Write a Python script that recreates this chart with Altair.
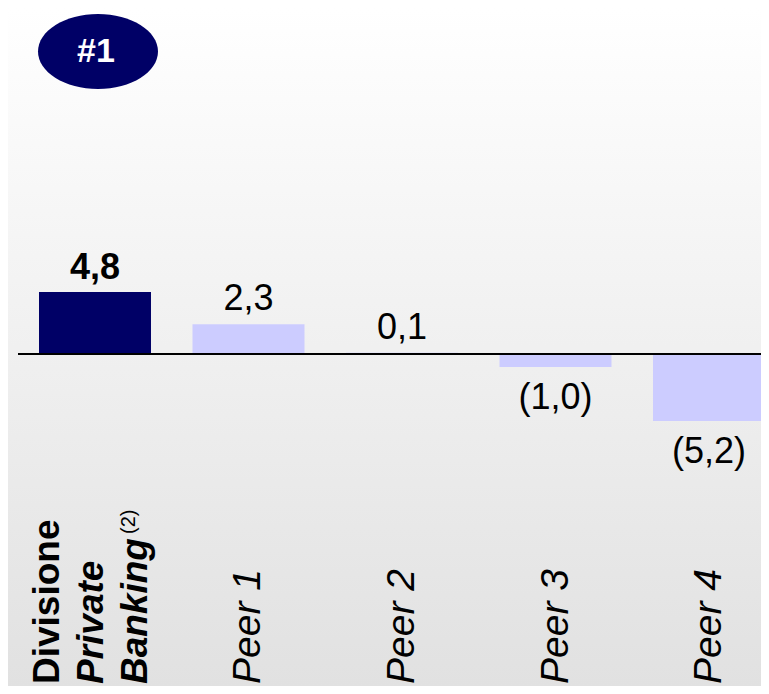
import altair as alt
import pandas as pd

# ---- data ----
categories = ["Divisione Private Banking", "Peer 1", "Peer 2", "Peer 3", "Peer 4"]
values = [4.8, 2.3, 0.1, -1.0, -5.2]
highlight = ["yes", "no", "no", "no", "no"]
badge_text = ["#1"]
first_label_lines = ["Divisione", "Private", "Banking"]
first_label_note = ["(2)"]


def fmt(v):
    s = f"{abs(v):.1f}".replace(".", ",")
    return f"({s})" if v < 0 else s


df = pd.DataFrame({
    "cat": categories,
    "value": values,
    "hl": highlight,
    "zero": [0.0] * len(values),
    "label": [fmt(v) for v in values],
})

FONT = "Liberation Sans"
W = 743
H = 678
K = 12.9            # pixels per unit
ZERO = 346          # zero line, pixels from top of plot
y_dom = [-(H - ZERO) / K, ZERO / K]

xs = alt.Scale(domain=categories, range=[21, 747], paddingInner=0.2704, paddingOuter=0)
ys = alt.Scale(domain=y_dom, nice=False, zero=False)

X = alt.X("cat:N", scale=xs, axis=None)
Y = alt.Y("value:Q", scale=ys, axis=None)

base = alt.Chart(df)

one = pd.DataFrame({"a": [0]})
bg = alt.Chart(one).mark_rect(
    fill=alt.Gradient(
        gradient="linear",
        stops=[alt.GradientStop(color="#FFFFFF", offset=0),
               alt.GradientStop(color="#E1E1E1", offset=1)],
        x1=0, x2=0, y1=0, y2=1,
    )
).encode(x=alt.value(-10), x2=alt.value(W), y=alt.value(0), y2=alt.value(H))

bars = base.mark_bar().encode(
    x=X,
    y=Y,
    y2="zero:Q",
    color=alt.Color("hl:N", scale=alt.Scale(domain=["yes", "no"], range=["#000066", "#CCCCFF"]), legend=None),
)

zero_rule = base.transform_filter("datum.hl == 'yes'").mark_rule(color="#000000", strokeWidth=2).encode(
    y=alt.Y("zero:Q", scale=ys, axis=None), x=alt.value(0), x2=alt.value(W)
)

pos_lbl = base.transform_filter("datum.value >= 0 && datum.hl == 'no'").mark_text(
    font=FONT, fontSize=36, baseline="alphabetic", dy=-14, color="#000000"
).encode(x=X, y=Y, text="label:N")

hl_lbl = base.transform_filter("datum.hl == 'yes'").mark_text(
    font=FONT, fontSize=36, fontWeight="bold", baseline="alphabetic", dy=-13, color="#000000"
).encode(x=X, y=Y, text="label:N")

neg_lbl = base.transform_filter("datum.value < 0").mark_text(
    font=FONT, fontSize=36, baseline="alphabetic", dy=42, color="#000000"
).encode(x=X, y=Y, text="label:N")

peer_lbl = base.transform_filter("datum.hl == 'no'").mark_text(
    font=FONT, fontSize=39, fontStyle="italic", angle=270, align="left",
    baseline="middle", color="#000000"
).encode(x=X, y=alt.value(H - 2), text="cat:N")

first_df = pd.DataFrame({
    "cat": [categories[0]] * 3,
    "t": first_label_lines,
})
first_layers = []
line_dy = [-47, -3, 41]
line_style = ["normal", "italic", "italic"]
for txt, ddy, sty in zip(first_label_lines, line_dy, line_style):
    first_layers.append(
        alt.Chart(first_df).transform_filter(alt.datum.t == txt).mark_text(
            font=FONT, fontSize=37, fontWeight="bold", fontStyle=sty, angle=270,
            align="left", baseline="middle", dy=ddy, color="#000000"
        ).encode(x=X, y=alt.value(H - 2), text="t:N")
    )

note_df = pd.DataFrame({"cat": [categories[0]], "t": first_label_note})
note = alt.Chart(note_df).mark_text(
    font=FONT, fontSize=20, angle=270, align="left", baseline="middle",
    dx=150, dy=34, color="#000000"
).encode(x=X, y=alt.value(H - 2), text="t:N")

badge_df = pd.DataFrame({"cat": [categories[0]], "t": badge_text})
ellipse = "M-1,0A1,0.625,0,1,1,1,0A1,0.625,0,1,1,-1,0Z"
badge = alt.Chart(badge_df).mark_point(
    shape=ellipse, size=14400, filled=True, color="#000066", opacity=1, xOffset=3
).encode(x=X, y=alt.value(43.5))
badge_txt = alt.Chart(badge_df).mark_text(
    font=FONT, fontSize=34, fontWeight="bold", color="#FFFFFF", baseline="middle", dx=1
).encode(x=X, y=alt.value(44), text="t:N")

chart = alt.layer(
    bg, bars, zero_rule, pos_lbl, hl_lbl, neg_lbl, peer_lbl, *first_layers, note, badge, badge_txt
).properties(
    width=W, height=H,
    padding={"left": 10, "top": 0, "right": 0, "bottom": 0},
    autosize=alt.AutoSizeParams(type="none"),
    background="#FFFFFF",
).configure_view(stroke=None)

chart.save("out.html", embed_options={"renderer": "svg", "actions": False})
